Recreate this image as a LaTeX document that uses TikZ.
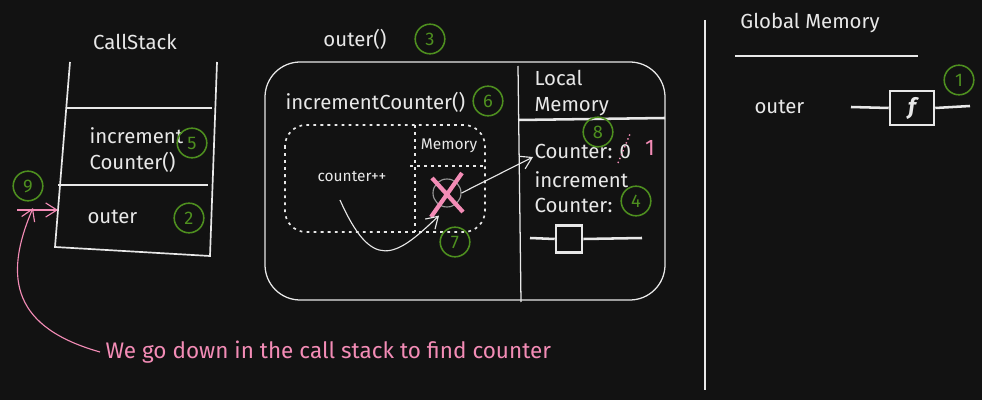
\documentclass[tikz,border=0pt]{standalone}
\usepackage{fontspec}
\setmainfont{Fira Sans}
\usetikzlibrary{positioning, arrows.meta}
\definecolor{bg}{HTML}{121212}
\definecolor{chalk}{HTML}{E8E8E8}
\definecolor{stepgreen}{HTML}{4E8F1F}
\definecolor{notepink}{HTML}{F38CB6}
\tikzset{
x=0.025cm, y=-0.025cm, % one unit is one pixel, y runs down
label/.style={font=\fontsize{14.5}{18}\selectfont, align=left}, % ordinary text
small/.style={font=\fontsize{11}{13}\selectfont}, % text inside the dashed box
note/.style={font=\fontsize{16}{18}\selectfont, text=notepink}, % the pink remark
badge/.style={circle, draw=stepgreen, line width=1.1pt, text=stepgreen,
  minimum size=0.74cm, inner sep=0pt, font=\fontsize{13}{13}\selectfont}, % step numbers
fnbox/.style={draw, line width=1.8pt, inner sep=0pt}, % function value
arrow/.style={-{Straight Barb[length=8pt, width=10pt]}, line width=0.8pt},
pinkarrow/.style={arrow, notepink},
}
\begin{document}
\begin{tikzpicture}[color=chalk, line width=1.2pt]
\fill[bg] (0,0) rectangle (982,400);

% call stack
\node[label] (callstack) at (135,42) {CallStack};
\draw (70,62) -- (55,247) -- (210,256) -- (217,62);
\draw[line width=0.9pt] (67,108) -- (212,108);
\draw[line width=1.8pt] (58,185) -- (208,185);
\node[label, anchor=west] (incstack) at (84,150) {increment\\Counter()};
\node[badge] (b5) at (192,143) {5};
\node[label, anchor=west] (outerstack) at (82,217) {outer};
\node[badge] (b2) at (189,218) {2};
\node[badge] (b9) at (28,186) {9};

% the remark
\node[note, anchor=west] (note) at (100,352) {We go down in the call stack to find counter};
\coordinate (stackup) at (33,208);
\coordinate (pinkfoot) at (17,210);
\coordinate (stackin) at (58,210);
\draw[pinkarrow] (note.west) .. controls (15,328) and (2,280) .. (stackup);
\draw[pinkarrow] (pinkfoot) -- (stackin);

% outer() frame
\node[label] (outerfn) at (355,39) {outer()};
\node[badge] (b3) at (430,39) {3};
\draw[rounded corners=25, line width=0.9pt] (265,62) rectangle (665,300);
\draw[line width=0.9pt] (518,66) -- (521,302);
\draw[line width=1.8pt] (518,120) -- (665,118);
\node[label, anchor=west] (localmem) at (529,93) {Local\\Memory};
\node[label, anchor=west] (incfn) at (280,102) {incrementCounter()};
\node[badge] (b6) at (488,101) {6};

% incrementCounter() frame
\draw[dash pattern=on 2pt off 3pt, rounded corners=15] (285,125) rectangle (485,232);
\draw[dash pattern=on 2pt off 3pt] (415,125) -- (415,232);
\draw[dash pattern=on 2pt off 3pt] (410,166) -- (485,166);
\node[small] (innermem) at (449,146) {Memory};
\node[small] (counterpp) at (352,177) {counter++};
\node[circle, draw=gray!80, line width=0.8pt, minimum size=0.7cm] (scope) at (447,193) {};
\draw[notepink, line width=3pt] (432,178) -- (463,212) (462,173) -- (431,217);
\node[badge] (b7) at (455,242) {7};
\coordinate (ppstart) at (340,200);
\draw[arrow] (ppstart) .. controls (372,272) and (395,258) .. ([shift={(-8,8)}]scope.south);

% local memory of outer()
\node[label, anchor=west] (counterval) at (529,151) {Counter: 0};
\node[note] (newval) at (650,148) {1};
\draw[notepink, dotted, line width=1pt] (618,163) -- (630,134);
\node[badge] (b8) at (598,132) {8};
\draw[arrow] (scope.east) -- ([shift={(4,6)}]counterval.west);
\node[label, anchor=west] (incmem) at (529,192) {increment\\Counter:};
\node[badge] (b4) at (636,201) {4};
\node[fnbox, minimum width=0.65cm, minimum height=0.68cm] (incref) at (569,239) {};
\draw[line width=1.8pt] (530,238) -- (incref.west);
\draw[line width=1.8pt] (incref.east) -- (642,238);

% global memory
\draw[line width=0.9pt] (705,20) -- (705,390);
\node[label] (globalmem) at (810,23) {Global Memory};
\draw[line width=1.8pt] (735,56) -- (918,56);
\node[label, anchor=west] (outerglob) at (749,107) {outer};
\node[fnbox, minimum width=1.1cm, minimum height=0.85cm, font=\fontsize{16}{16}\selectfont\bfseries\itshape] (outerref) at (912,108) {f};
\draw[line width=1.8pt] (851,107) -- (outerref.west);
\draw[line width=1.8pt] (outerref.east) -- (970,106);
\node[badge] (b1) at (959,80) {1};
\end{tikzpicture}
\end{document}
